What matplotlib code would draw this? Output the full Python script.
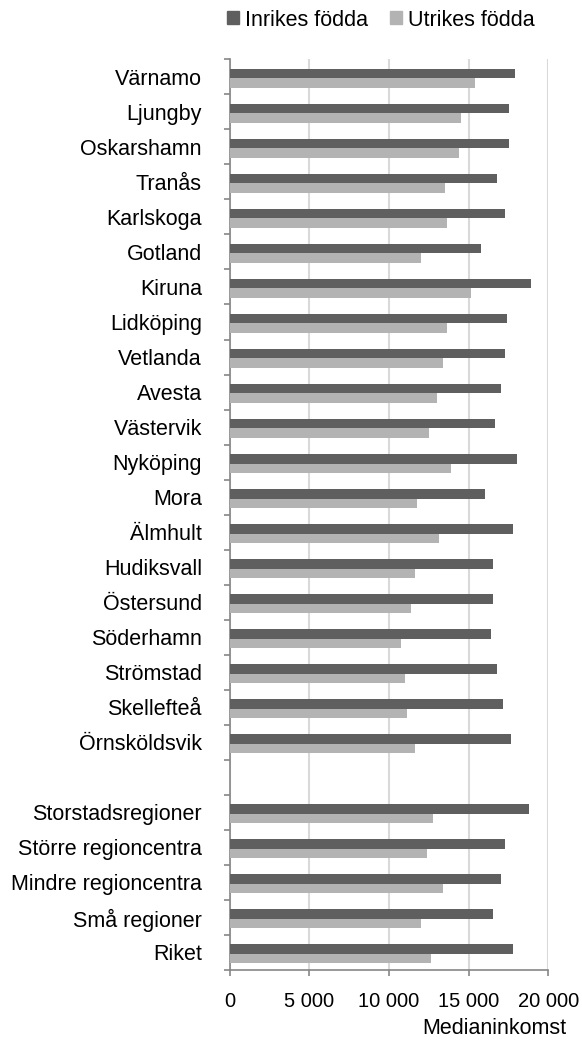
import matplotlib.pyplot as plt
from matplotlib.patches import Patch
from matplotlib.ticker import FixedLocator

# Medianinkomst för inrikes och utrikes födda, per kommun / regiontyp

kategorier = ["Värnamo", "Ljungby", "Oskarshamn", "Tranås", "Karlskoga", "Gotland",
              "Kiruna", "Lidköping", "Vetlanda", "Avesta", "Västervik", "Nyköping",
              "Mora", "Älmhult", "Hudiksvall", "Östersund", "Söderhamn", "Strömstad",
              "Skellefteå", "Örnsköldsvik", "",
              "Storstadsregioner", "Större regioncentra", "Mindre regioncentra",
              "Små regioner", "Riket"]

inrikes = [17930, 17550, 17550, 16800, 17300, 15800, 18930, 17430, 17300, 17050,
           16670, 18050, 16050, 17800, 16550, 16550, 16420, 16800, 17180, 17680, 0,
           18810, 17300, 17050, 16550, 17800]

utrikes = [15420, 14540, 14410, 13540, 13660, 12030, 15170, 13660, 13410, 13030,
           12530, 13910, 11780, 13160, 11650, 11400, 10770, 11030, 11150, 11650, 0,
           12780, 12410, 13410, 12030, 12660]

xticks = [0, 5000, 10000, 15000, 20000]

MORK = "#5f5f5f"
LJUS = "#b3b3b3"
GRA = "#868686"
FONT = "Liberation Sans"
FS = 15.5

plt.rcParams["font.family"] = [FONT, "DejaVu Sans"]

fig = plt.figure(figsize=(5.82, 10.40), dpi=100)
ax = fig.add_axes([229.7 / 582, 70 / 1040, (548.3 - 229.7) / 582, (970 - 59.3) / 1040])

pos = list(range(len(kategorier)))
h = 0.27
forskj = 0.04  # staplarna ligger lite under mitten i originalet
ax.barh([p - h / 2 + forskj for p in pos], inrikes, height=h, color=MORK, zorder=3)
ax.barh([p + h / 2 + forskj for p in pos], utrikes, height=h, color=LJUS, zorder=3)

ax.set_xlim(0, 20000)
ax.set_ylim(len(kategorier) - 0.5, -0.5)

# y-axel: etiketter utan streck, små streck mellan kategorier
ax.set_yticks(pos)
ax.set_yticklabels(kategorier, fontsize=FS)
ax.tick_params(axis="y", which="major", length=0, pad=20)
ax.yaxis.set_minor_locator(FixedLocator([p - 0.5 for p in range(len(kategorier) + 1)]))
ax.tick_params(axis="y", which="minor", length=4, width=1.2, color=GRA, direction="out")

# x-axel
ax.set_xticks(xticks)
ax.set_xticklabels([f"{v:,}".replace(",", " ") for v in xticks], fontsize=14.5)
ax.tick_params(axis="x", length=4, width=1.2, color=GRA, direction="out", pad=12)
ax.grid(axis="x", color="#d9d9d9", linewidth=1.5, zorder=0)

for s in ["top", "right"]:
    ax.spines[s].set_visible(False)
for s in ["left", "bottom"]:
    ax.spines[s].set_color(GRA)
    ax.spines[s].set_linewidth(1.2)

fig.text(566 / 582, 1 - 1028 / 1040, "Medianinkomst", ha="right", va="center", fontsize=FS)

handles = [Patch(color=MORK, label="Inrikes födda"), Patch(color=LJUS, label="Utrikes födda")]
fig.legend(handles=handles, loc="center", bbox_to_anchor=(381 / 582, 1 - 20 / 1040),
           ncol=2, frameon=False, fontsize=FS, handlelength=0.55, handleheight=0.55,
           handletextpad=0.3, columnspacing=1.0)

fig.savefig("out.png", dpi=100)
